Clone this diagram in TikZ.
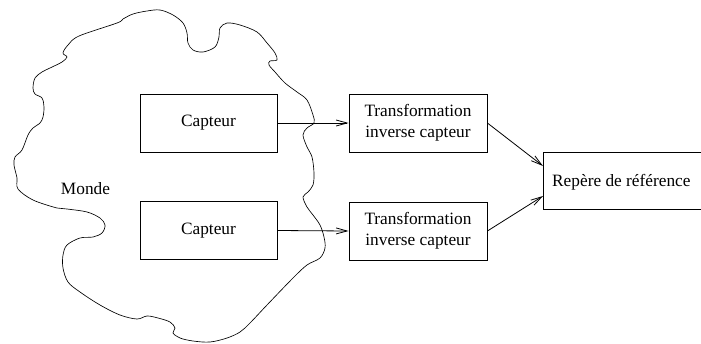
\documentclass[tikz,border=0pt]{standalone}
\usepackage{fontspec}
\setmainfont{Liberation Serif}
\usetikzlibrary{arrows.meta}
\begin{document}
\begin{tikzpicture}[x=1pt,y=-1pt,
  box/.style={draw,line width=0.8pt,rectangle,inner sep=0pt,minimum width=137pt,minimum height=58pt,font=\fontsize{17.3}{21}\selectfont,align=center},
  lbl/.style={font=\fontsize{17.3}{21}\selectfont,inner sep=0pt},
  arr/.style={line width=0.8pt,-{Straight Barb[length=11pt,width=6pt,line width=0.8pt]}},
  cloud/.style={line width=0.65pt}]
\useasboundingbox (0,0) rectangle (701,343);
\clip (0,0) rectangle (701,343);
\draw[cloud] plot[smooth cycle,tension=0.55] coordinates {
(133,14) (147,11) (160,10) (173,15) (183,23) (187,33) (188,43) (193,50) (203,52) (215,47) (219,37) (220,28) (227,23) (240,25) (257,32) (267,43) (275,53) (277,60) (270,61) (269,65) (275,72) (285,83) (297,92) (307,100) (313,115) (314,123) (307,128) (303,135) (307,147) (312,157) (314,173) (313,185) (308,192) (303,197) (307,207) (313,215) (320,225) (324,237) (325,248) (320,258) (307,265) (293,278) (267,305) (250,323) (240,332) (227,338) (210,342) (193,341) (180,338) (173,333) (175,328) (170,322) (158,318) (147,316) (137,319) (120,315) (100,305) (80,292) (68,282) (63,268) (63,255) (67,245) (80,238) (93,237) (102,233) (105,225) (100,218) (87,212) (67,209) (57,208) (33,200) (18,189) (17,178) (14,165) (15,157) (22,150) (28,135) (33,128) (40,123) (43,117) (44,107) (42,98) (35,94) (33,88) (35,78) (42,72) (50,68) (62,62) (67,57) (63,53) (68,45) (79,36) (117,23) (123,19)};
\node[box] (c1) at (208.5,123) {Capteur};
\node[box] (c2) at (208.5,230.5) {Capteur};
\node[box,minimum width=138pt] (t1) at (418,123) {Transformation\\inverse capteur};
\node[box,minimum width=138pt] (t2) at (418,231) {Transformation\\inverse capteur};
\node[box,minimum width=170pt,minimum height=57pt,anchor=west] (r) at (543,180.5) {};
\node[lbl,anchor=west] (rt) at (552,182) {Repère de référence};
\node[lbl] (m) at (85.5,189) {Monde};
\draw[arr] (c1.east) -- (t1.west);
\draw[arr] (c2.east) -- (t2.west);
\draw[arr] (t1.east) -- (543,166);
\draw[arr] (t2.east) -- (543,196);
\end{tikzpicture}
\end{document}
